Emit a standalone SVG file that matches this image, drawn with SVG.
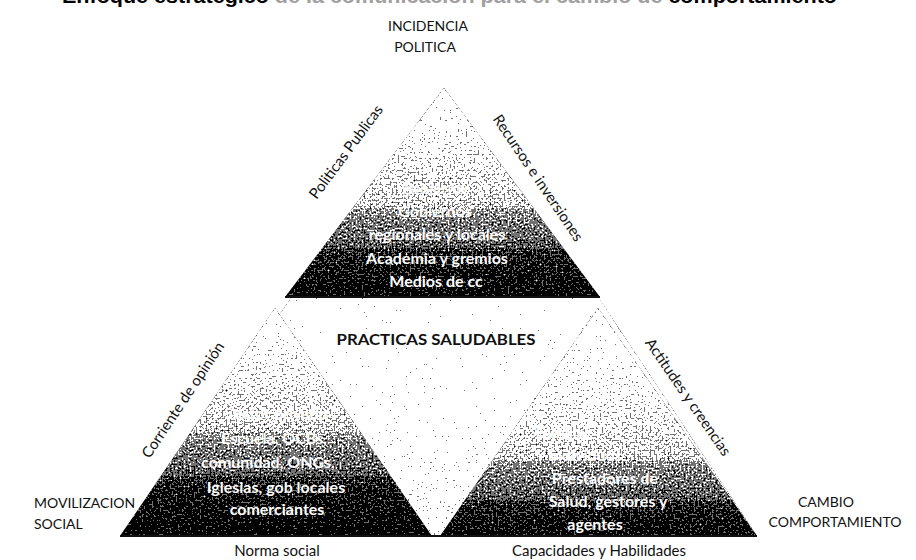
<svg xmlns="http://www.w3.org/2000/svg" width="916" height="560" viewBox="0 0 916 560">
<defs>
  <filter id="dither" filterUnits="userSpaceOnUse" x="0" y="0" width="916" height="560" color-interpolation-filters="sRGB">
    <feTurbulence type="fractalNoise" baseFrequency="0.5" numOctaves="3" seed="11" result="noise"/>
    <feColorMatrix in="noise" type="matrix" values="1 0 0 0 0  1 0 0 0 0  1 0 0 0 0  0 0 0 0 1" result="gn"/>
    <feComposite in="SourceGraphic" in2="gn" operator="arithmetic" k1="0" k2="1.3" k3="1.6" k4="-0.95" result="sum"/>
    <feComponentTransfer in="sum" result="th">
      <feFuncR type="discrete" tableValues="0 0.45 1"/>
      <feFuncG type="discrete" tableValues="0 0.45 1"/>
      <feFuncB type="discrete" tableValues="0 0.45 1"/>
    </feComponentTransfer>
    <feComposite in="th" in2="SourceAlpha" operator="in"/>
  </filter>
  <linearGradient id="gTop" x1="0" y1="0" x2="0" y2="1">
    <stop offset="0" stop-color="#f4f4f4"/>
    <stop offset="0.3" stop-color="#d8d8d8"/>
    <stop offset="0.55" stop-color="#a8a8a8"/>
    <stop offset="0.8" stop-color="#555555"/>
    <stop offset="1" stop-color="#262626"/>
  </linearGradient>
  <linearGradient id="gLeft" x1="0" y1="0" x2="0" y2="1">
    <stop offset="0" stop-color="#f4f4f4"/>
    <stop offset="0.3" stop-color="#d4d4d4"/>
    <stop offset="0.55" stop-color="#a0a0a0"/>
    <stop offset="0.8" stop-color="#4a4a4a"/>
    <stop offset="1" stop-color="#1e1e1e"/>
  </linearGradient>
  <linearGradient id="gRight" x1="0" y1="0" x2="0" y2="1">
    <stop offset="0" stop-color="#f6f6f6"/>
    <stop offset="0.42" stop-color="#d8d8d8"/>
    <stop offset="0.66" stop-color="#a4a4a4"/>
    <stop offset="0.86" stop-color="#585858"/>
    <stop offset="1" stop-color="#2c2c2c"/>
  </linearGradient>
  <linearGradient id="gMid" x1="0" y1="0" x2="0" y2="1">
    <stop offset="0" stop-color="#f8f8f8"/>
    <stop offset="1" stop-color="#e4e4e4"/>
  </linearGradient>
</defs>
<style>
  text { font-family: "Lato", "Liberation Sans", sans-serif; fill: #111; }
  .lbl { font-size: 14px; }
  .edge { font-size: 15px; }
  .inner { font-size: 16px; font-weight: bold; fill: #fff; text-anchor: middle; }
  .base { stroke: #111; stroke-width: 2; }
</style>
<rect width="916" height="560" fill="#fff"/>

<g id="title">
  <text x="62" y="3" textLength="775" lengthAdjust="spacingAndGlyphs" style="font-family:'Liberation Sans',sans-serif;font-size:21px;font-weight:bold"><tspan fill="#000">Enfoque estratégico </tspan><tspan fill="#a0a0a0">de la comunicación para el cambio de </tspan><tspan fill="#000">comportamiento</tspan></text>
</g>

<g id="center">
  <polygon points="292,297 598,297 757,536 120,536" fill="url(#gMid)" filter="url(#dither)"/>
  <text x="436" y="345" text-anchor="middle" style="font-size:15px;font-weight:bold" textLength="199" lengthAdjust="spacingAndGlyphs">PRACTICAS SALUDABLES</text>
</g>

<g id="top">
  <polygon points="444,88 285,297 600,297" fill="url(#gTop)" filter="url(#dither)"/>
  <line class="base" x1="285" y1="297" x2="600" y2="297"/>
  <text class="inner" x="434" y="194" fill-opacity="0.8">gobierno</text>
  <text class="inner" x="435" y="217">Gobiernos</text>
  <text class="inner" x="437" y="240">regionales y locales</text>
  <text class="inner" x="437" y="264">Academia y gremios</text>
  <text class="inner" x="436" y="287">Medios de cc</text>
</g>

<g id="bottom-left">
  <polygon points="275,308 120,536 432,536" fill="url(#gLeft)" filter="url(#dither)"/>
  <text class="inner" x="276" y="419">Sector privado</text>
  <text class="inner" x="274" y="444">Escuela, OCBs,</text>
  <text class="inner" x="268" y="468">comunidad, ONGs,</text>
  <text class="inner" x="276" y="493">Iglesias,  gob locales</text>
  <text class="inner" x="277" y="515">comerciantes</text>
</g>

<g id="bottom-right">
  <polygon points="598,308 440,536 757,536" fill="url(#gRight)" filter="url(#dither)"/>
  <text class="inner" x="560" y="438">Familia</text>
  <text class="inner" x="585" y="461">Individuos</text>
  <text class="inner" x="605" y="484">Prestadores de</text>
  <text class="inner" x="608" y="507">Salud, gestores y</text>
  <text class="inner" x="595" y="530">agentes</text>
</g>
<line class="base" x1="120" y1="536" x2="757" y2="536"/>

<g id="labels">
  <text class="lbl" x="428" y="31" text-anchor="middle">INCIDENCIA</text>
  <text class="lbl" x="425" y="52" text-anchor="middle">POLITICA</text>
  <text class="lbl" x="34" y="508">MOVILIZACION</text>
  <text class="lbl" x="34" y="529">SOCIAL</text>
  <text class="lbl" x="826" y="507" text-anchor="middle">CAMBIO</text>
  <text class="lbl" x="835" y="527" text-anchor="middle">COMPORTAMIENTO</text>
  <text class="edge" x="277" y="556" text-anchor="middle">Norma social</text>
  <text class="edge" x="599" y="556" text-anchor="middle">Capacidades y Habilidades</text>
  <text class="edge" transform="translate(346,152) rotate(-53.4)" x="0" y="5" text-anchor="middle">Politicas Publicas</text>
  <text class="edge" transform="translate(538,178) rotate(56)" x="0" y="5" text-anchor="middle">Recursos e inversiones</text>
  <text class="edge" transform="translate(183,400) rotate(-56.3)" x="0" y="5" text-anchor="middle">Corriente de opinión</text>
  <text class="edge" transform="translate(688,397) rotate(55.5)" x="0" y="5" text-anchor="middle">Actitudes y creencias</text>
</g>
</svg>
